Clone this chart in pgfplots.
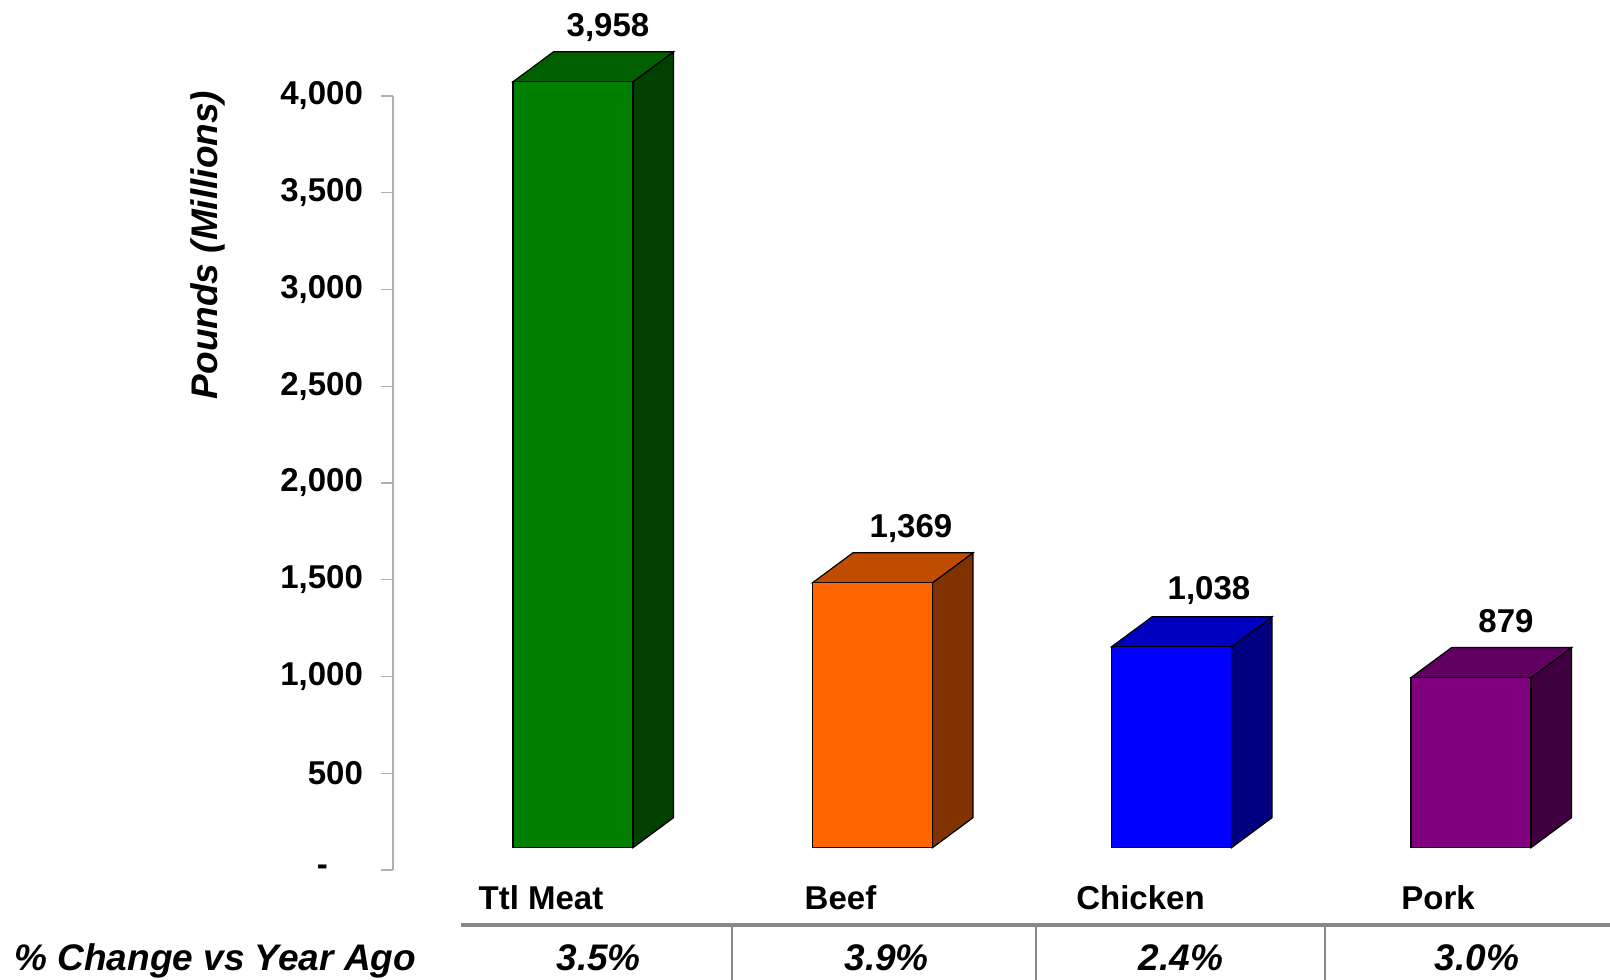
\documentclass[border=0pt]{standalone}
\usepackage{pgfplots}
\pgfplotsset{compat=1.18}
\usepackage{fontspec}
\setmainfont{Liberation Sans}
\definecolor{gfront}{HTML}{008000}
\definecolor{gtop}{HTML}{006000}
\definecolor{gside}{HTML}{004000}
\definecolor{bfront}{HTML}{FF6600}
\definecolor{btop}{HTML}{C04C00}
\definecolor{bside}{HTML}{803300}
\definecolor{cfront}{HTML}{0000FF}
\definecolor{ctop}{HTML}{0000C0}
\definecolor{cside}{HTML}{000080}
\definecolor{pfront}{HTML}{800080}
\definecolor{ptop}{HTML}{600060}
\definecolor{pside}{HTML}{400040}
\definecolor{axgray}{HTML}{B0B0B0}
\definecolor{tblgray}{HTML}{888888}
\newcommand{\lbl}{\bfseries\fontsize{16.5}{19}\selectfont}
\newcommand{\bigit}{\bfseries\itshape\fontsize{18.5}{22}\selectfont}
\begin{document}
\begin{tikzpicture}
\begin{axis}[
  scale only axis, width=608.5pt, height=387pt,
  xmin=393, xmax=1610, ymin=0, ymax=4000,
  axis x line=none, axis y line=left,
  axis line style={-, axgray, line width=0.6pt},
  tick align=outside, major tick length=6pt,
  tick style={axgray, line width=0.6pt},
  ytick={0,500,1000,1500,2000,2500,3000,3500,4000},
  yticklabels={{-\kern17.5pt},{500},{1,000},{1,500},{2,000},{2,500},{3,000},{3,500},{4,000}},
  yticklabel style={font=\lbl, xshift=-5.5pt},
  ylabel={Pounds (Millions)},
  ylabel style={font=\bigit, at={(rel axis cs:-0.152,0.8075)}, anchor=center},
  clip=false,
]
% Ttl Meat
\addplot[fill=gside, draw=black, line width=0.6pt, yshift=11.15pt] coordinates {(633,0) (673.5,155) (673.5,4113) (633,3958)} -- cycle;
\addplot[fill=gtop, draw=black, line width=0.6pt, yshift=11.15pt] coordinates {(513,3958) (633,3958) (673.5,4113) (553.5,4113)} -- cycle;
\addplot[fill=gfront, draw=black, line width=0.6pt, yshift=11.15pt] coordinates {(513,0) (633,0) (633,3958) (513,3958)} -- cycle;
% Beef
\addplot[fill=bside, draw=black, line width=0.6pt, yshift=11.15pt] coordinates {(932.5,0) (973,155) (973,1524) (932.5,1369)} -- cycle;
\addplot[fill=btop, draw=black, line width=0.6pt, yshift=11.15pt] coordinates {(812.5,1369) (932.5,1369) (973,1524) (853,1524)} -- cycle;
\addplot[fill=bfront, draw=black, line width=0.6pt, yshift=11.15pt] coordinates {(812.5,0) (932.5,0) (932.5,1369) (812.5,1369)} -- cycle;
% Chicken
\addplot[fill=cside, draw=black, line width=0.6pt, yshift=11.15pt] coordinates {(1231.5,0) (1272,155) (1272,1193) (1231.5,1038)} -- cycle;
\addplot[fill=ctop, draw=black, line width=0.6pt, yshift=11.15pt] coordinates {(1111.5,1038) (1231.5,1038) (1272,1193) (1152,1193)} -- cycle;
\addplot[fill=cfront, draw=black, line width=0.6pt, yshift=11.15pt] coordinates {(1111.5,0) (1231.5,0) (1231.5,1038) (1111.5,1038)} -- cycle;
% Pork
\addplot[fill=pside, draw=black, line width=0.6pt, yshift=11.15pt] coordinates {(1531,0) (1571.5,155) (1571.5,1034) (1531,879)} -- cycle;
\addplot[fill=ptop, draw=black, line width=0.6pt, yshift=11.15pt] coordinates {(1411,879) (1531,879) (1571.5,1034) (1451.5,1034)} -- cycle;
\addplot[fill=pfront, draw=black, line width=0.6pt, yshift=11.15pt] coordinates {(1411,0) (1531,0) (1531,879) (1411,879)} -- cycle;
% value labels
\node[font=\lbl, anchor=base, inner sep=0pt, yshift=18.65pt] at (axis cs:608,4113) {3,958};
\node[font=\lbl, anchor=base, inner sep=0pt, yshift=18.65pt] at (axis cs:911,1524) {1,369};
\node[font=\lbl, anchor=base, inner sep=0pt, yshift=19.65pt] at (axis cs:1209,1193) {1,038};
\node[font=\lbl, anchor=base, inner sep=0pt, yshift=18.65pt] at (axis cs:1506,1034) {879};
% category labels
\node[font=\lbl, anchor=base, inner sep=0pt] at (axis cs:541,-206.7) {Ttl Meat};
\node[font=\lbl, anchor=base, inner sep=0pt] at (axis cs:840.5,-206.7) {Beef};
\node[font=\lbl, anchor=base, inner sep=0pt] at (axis cs:1140.5,-206.7) {Chicken};
\node[font=\lbl, anchor=base, inner sep=0pt] at (axis cs:1438,-206.7) {Pork};
% table
\draw[tblgray, line width=2pt] (axis cs:461,-286) -- (axis cs:1610,-286);
\draw[tblgray, line width=1pt] (axis cs:732,-296) -- (axis cs:732,-568.5);
\draw[tblgray, line width=1pt] (axis cs:1036,-296) -- (axis cs:1036,-568.5);
\draw[tblgray, line width=1pt] (axis cs:1324.6,-296) -- (axis cs:1324.6,-568.5);
\node[font=\bigit, anchor=base west, inner sep=0pt] at (axis cs:14,-520.4) {\% Change vs Year Ago};
\node[font=\bigit, anchor=base, inner sep=0pt] at (axis cs:598.6,-520.4) {3.5\%};
\node[font=\bigit, anchor=base, inner sep=0pt] at (axis cs:886.6,-520.4) {3.9\%};
\node[font=\bigit, anchor=base, inner sep=0pt] at (axis cs:1181,-520.4) {2.4\%};
\node[font=\bigit, anchor=base, inner sep=0pt] at (axis cs:1477,-520.4) {3.0\%};
\coordinate (BL) at (axis cs:0,-568.5);
\coordinate (TR) at (axis cs:1610,4496);
\end{axis}
\pgfresetboundingbox
\path[use as bounding box] (BL) rectangle (TR);
\end{tikzpicture}
\end{document}
